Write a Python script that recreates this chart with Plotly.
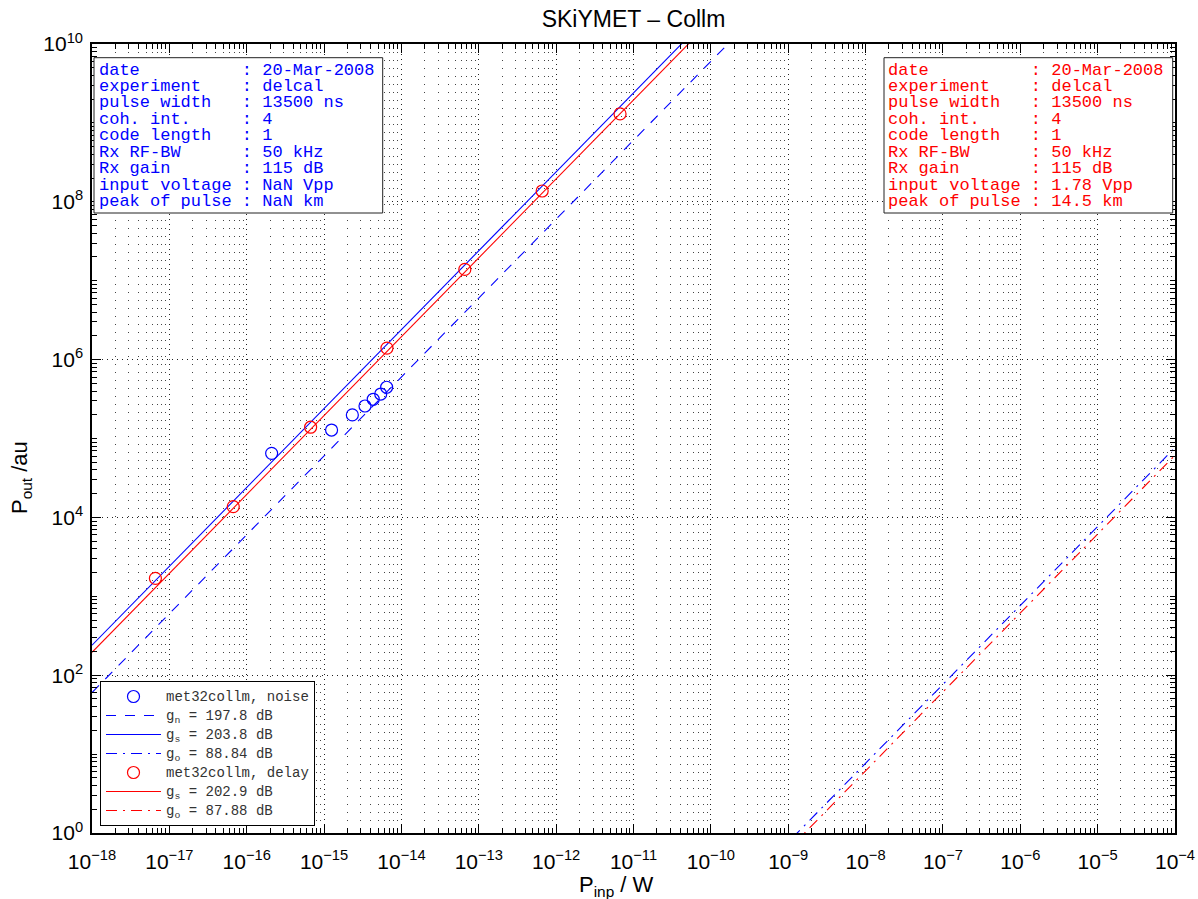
import plotly.graph_objects as go

# ---------------- data ----------------
delay_x = [6.6e-18, 6.7e-17, 6.7e-16, 6.5e-15, 6.6e-14, 6.6e-13, 6.7e-12]
delay_y = [1.69e3, 1.37e4, 1.39e5, 1.40e6, 1.39e7, 1.37e8, 1.30e9]
noise_x = [2.10e-16, 1.25e-15, 2.32e-15, 3.38e-15, 4.32e-15, 5.40e-15, 6.44e-15]
noise_y = [6.49e4, 1.28e5, 1.99e5, 2.58e5, 3.14e5, 3.66e5, 4.46e5]

noise_gn_db = 197.8
noise_gs_db = 203.8
noise_go_db = 88.84
delay_gs_db = 202.9
delay_go_db = 87.88

line_x = [1e-18, 1e-4]

info_keys = ["date", "experiment", "pulse width", "coh. int.", "code length",
             "Rx RF-BW", "Rx gain", "input voltage", "peak of pulse"]
noise_vals = ["20-Mar-2008", "delcal", "13500 ns", "4", "1", "50 kHz", "115 dB",
              "NaN Vpp", "NaN km"]
delay_vals = ["20-Mar-2008", "delcal", "13500 ns", "4", "1", "50 kHz", "115 dB",
              "1.78 Vpp", "14.5 km"]

x_major_exp = list(range(-18, -3))
y_major_exp = list(range(0, 11, 2))

BLUE = "#0000ff"
RED = "#ff0000"


def gain_line(db):
    g = 10 ** (db / 10.0)
    return [g * v for v in line_x]


def leg(s):
    return "<span style='font-size:14px'>%s</span>" % s


fig = go.Figure()

fig.add_trace(go.Scatter(x=noise_x, y=noise_y, mode="markers", name=leg("met32collm, noise"),
                         marker=dict(symbol="circle-open", size=12, color=BLUE, line=dict(width=1.2, color=BLUE))))
fig.add_trace(go.Scatter(x=line_x, y=gain_line(noise_gn_db), mode="lines",
                         name=leg("g<sub>n</sub> = 197.8 dB"),
                         line=dict(color=BLUE, width=1.1, dash="10px,9px")))
fig.add_trace(go.Scatter(x=line_x, y=gain_line(noise_gs_db), mode="lines",
                         name=leg("g<sub>s</sub> = 203.8 dB"),
                         line=dict(color=BLUE, width=1.1)))
fig.add_trace(go.Scatter(x=line_x, y=gain_line(noise_go_db), mode="lines",
                         name=leg("g<sub>o</sub> = 88.84 dB"),
                         line=dict(color=BLUE, width=1.1, dash="11px,6px,2px,6px")))
fig.add_trace(go.Scatter(x=delay_x, y=delay_y, mode="markers", name=leg("met32collm, delay"),
                         marker=dict(symbol="circle-open", size=12, color=RED, line=dict(width=1.2, color=RED))))
fig.add_trace(go.Scatter(x=line_x, y=gain_line(delay_gs_db), mode="lines",
                         name=leg("g<sub>s</sub> = 202.9 dB"),
                         line=dict(color=RED, width=1.1)))
fig.add_trace(go.Scatter(x=line_x, y=gain_line(delay_go_db), mode="lines",
                         name=leg("g<sub>o</sub> = 87.88 dB"),
                         line=dict(color=RED, width=1.1, dash="11px,6px,2px,6px")))

x_major = [10.0 ** k for k in x_major_exp]
x_text = ["10<sup>%s</sup>" % (str(k).replace("-", "\u2212")) for k in x_major_exp]
x_minor = [m * 10.0 ** k for k in x_major_exp[:-1] for m in range(2, 10)]

y_major = [10.0 ** k for k in y_major_exp]
y_text = ["10<sup>%d</sup>" % k for k in y_major_exp]
y_minor = [m * 10.0 ** k for k in range(0, 10) for m in range(1, 10) if not (m == 1 and k % 2 == 0)]

axis_common = dict(
    type="log", tickmode="array", ticks="inside", ticklen=9, tickwidth=1, tickcolor="black",
    showline=True, linecolor="black", linewidth=1.5, mirror="allticks",
    showgrid=True, gridcolor="#222222", gridwidth=1, griddash="1px,4px", zeroline=False,
    tickfont=dict(family="Liberation Sans, Arial", size=21, color="black"),
)

fig.update_xaxes(range=[-18, -4], tickvals=x_major, ticktext=x_text, ticklabelstandoff=9,
                 minor=dict(tickmode="array", tickvals=x_minor, ticks="inside", ticklen=5,
                            tickcolor="black", showgrid=True, gridcolor="#444444",
                            gridwidth=1, griddash="1px,7px"),
                 **axis_common)
fig.update_yaxes(range=[0, 10], tickvals=y_major, ticktext=y_text, ticklabelstandoff=3,
                 minor=dict(tickmode="array", tickvals=y_minor, ticks="inside", ticklen=5,
                            tickcolor="black", showgrid=False),
                 **axis_common)

W, H = 1198, 899
L, R, T, B = 92, 23, 44, 66
pw, ph = W - L - R, H - T - B


def px(xp):
    return (xp - L) / pw


def py(yp):
    return (H - B - yp) / ph


annotations = []
shapes = []
for (x0, x1, tx, vals, col) in [(94, 382.7, 98.3, noise_vals, BLUE),
                                (884, 1172.7, 887.3, delay_vals, RED)]:
    shapes.append(dict(type="rect", xref="paper", yref="paper",
                       x0=px(x0), x1=px(x1), y0=py(213), y1=py(57.7),
                       line=dict(color="#222222", width=1), fillcolor="white", layer="above"))
    for i, (k, v) in enumerate(zip(info_keys, vals)):
        txt = ("%-14s: %s" % (k, v)).replace(" ", "\u00a0")
        annotations.append(dict(text=txt, xref="paper", yref="paper", x=px(tx), y=py(70 + i * 16.46),
                                xanchor="left", yanchor="middle", showarrow=False, xshift=-1,
                                font=dict(family="Liberation Mono, Courier New, monospace", size=17, color=col)))

annotations.append(dict(text="P<sub>inp</sub> / W", xref="paper", yref="paper", x=px(616), y=py(886),
                        xanchor="center", yanchor="middle", showarrow=False,
                        font=dict(family="Liberation Sans, Arial", size=22, color="black")))
annotations.append(dict(text="P<sub>out</sub> /au", xref="paper", yref="paper", x=px(21), y=py(478),
                        xanchor="center", yanchor="middle", showarrow=False, textangle=-90,
                        font=dict(family="Liberation Sans, Arial", size=22, color="black")))

fig.update_layout(
    width=W, height=H,
    margin=dict(l=L, r=R, t=T, b=B, autoexpand=False),
    paper_bgcolor="white", plot_bgcolor="white",
    title=dict(text="SKiYMET \u2013 Collm", x=0.5, xref="paper", y=1 - 19 / H, yref="container",
               xanchor="center", yanchor="middle",
               font=dict(family="Liberation Sans, Arial", size=23, color="black")),
    legend=dict(x=px(100), y=py(826), xanchor="left", yanchor="bottom",
                bgcolor="white", bordercolor="black", borderwidth=1, itemwidth=55,
                tracegroupgap=0,
                font=dict(family="Liberation Mono, Courier New, monospace", size=12, color="#333333")),
    showlegend=True,
    annotations=annotations,
    shapes=shapes,
)

fig.write_html("out.html")
